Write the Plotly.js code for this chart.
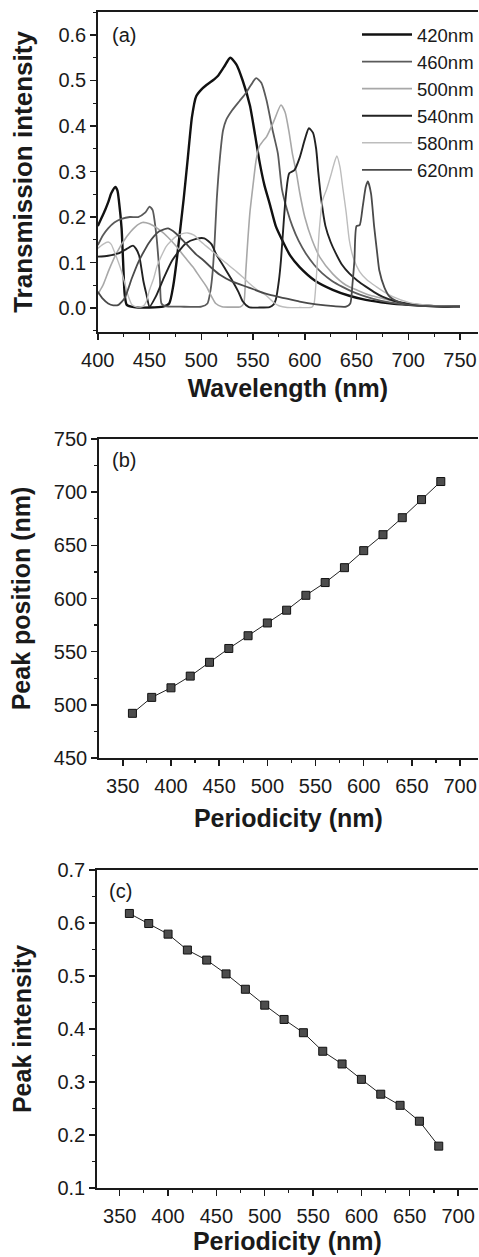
<!DOCTYPE html>
<html>
<head>
<meta charset="utf-8">
<script src="https://cdn.plot.ly/plotly-3.0.1.min.js"></script>
<style>
html,body{margin:0;padding:0;background:#fff;}
#chart{width:479px;height:1257px;}
</style>
</head>
<body>
<div id="chart"></div>
<script>
// ---- Panel (a): transmission spectra ----
const seriesNames = ["420nm", "460nm", "500nm", "540nm", "580nm", "620nm"];

const wl420 = [400,404,407,410,413,417,419,420.5,423,424.5,426,428,435,450,463,469,473,476,480,483,487,491,495,500,505,511,516,522,528,534,540,547,552,556,561,566,572,578,586,595,610,627,643,659,680,700,725,750];
const int420 = [0.18,0.2,0.215,0.232,0.252,0.266,0.258,0.234,0.175,0.1,0.03,0.007,0.002,0.001,0.003,0.01,0.05,0.1,0.18,0.24,0.33,0.42,0.465,0.48,0.49,0.5,0.51,0.53,0.55,0.535,0.5,0.445,0.38,0.325,0.27,0.23,0.18,0.15,0.115,0.09,0.06,0.04,0.027,0.018,0.011,0.007,0.004,0.003];

const wl460 = [400,405,410,416,423,431,439,446,450,453,456.6,458.5,460,461.5,465,480,500,506,509,511,513,515,518,521,524,530,537,543,548,553,558,563,569,574,578,583,588,594,601,609,617,626,636,647,659,673,688,710,750];
const int460 = [0.138,0.16,0.175,0.188,0.196,0.2,0.2,0.21,0.223,0.215,0.16,0.11,0.066,0.01,0.004,0.003,0.003,0.01,0.04,0.08,0.15,0.24,0.33,0.39,0.413,0.435,0.455,0.472,0.49,0.505,0.495,0.457,0.39,0.34,0.26,0.215,0.18,0.148,0.12,0.095,0.076,0.06,0.047,0.035,0.025,0.016,0.01,0.006,0.003];

const wl500 = [400,405,411,418,428,436,443,450,460,468,476,484,492,498,505,510,514,520,530,538,541,543,545,547,550,553,556,560,563,570,577,581,585,588,592,595,600,607,615,627,640,650,663,677,692,707,725,750];
const int500 = [0.03,0.05,0.085,0.12,0.157,0.178,0.188,0.185,0.171,0.155,0.135,0.112,0.09,0.07,0.047,0.025,0.01,0.003,0.002,0.003,0.01,0.08,0.15,0.21,0.27,0.325,0.355,0.368,0.376,0.41,0.446,0.43,0.384,0.34,0.296,0.255,0.2,0.15,0.11,0.075,0.05,0.04,0.028,0.02,0.012,0.008,0.005,0.003];

const wl540 = [400,410,420,428,434,437,440,444,447,450,456,463,472,485,495,503,510,514,522,530,536,540,546,556,566,570,572,575,577,580,582,585,590,595,600,604,608,611,613,616,620,625,630,636,643,651,659,667,675,686,698,720,750];
const int540 = [0.113,0.115,0.12,0.13,0.137,0.13,0.115,0.06,0.03,0.003,0.025,0.062,0.105,0.142,0.152,0.153,0.14,0.12,0.09,0.06,0.035,0.015,0.002,0.001,0.002,0.008,0.018,0.06,0.105,0.2,0.253,0.296,0.303,0.33,0.37,0.395,0.385,0.35,0.3,0.237,0.18,0.145,0.12,0.095,0.076,0.06,0.047,0.035,0.025,0.016,0.01,0.005,0.003];

const wl580 = [400,405,410,413,416,420,423,426,429,433,438,444,447,450,454,457,461,466,471,476,481,487,493,500,509,518,526,534,540,546,554,563,570,575,583,595,607,609,611,614,617,621,625,628,631,634,637,640,643,647,653,660,669,677,685,701,720,750];
const int580 = [0.131,0.14,0.145,0.14,0.124,0.1,0.08,0.055,0.029,0.007,0.002,0.004,0.015,0.04,0.065,0.09,0.112,0.135,0.148,0.158,0.163,0.165,0.16,0.145,0.128,0.11,0.095,0.08,0.068,0.055,0.04,0.027,0.012,0.005,0.001,0.001,0.002,0.01,0.06,0.17,0.235,0.26,0.29,0.315,0.334,0.31,0.26,0.21,0.15,0.11,0.08,0.062,0.047,0.035,0.025,0.012,0.006,0.003];

const wl620 = [400,405,410,415,420,426,433,439,444,449,454,459,464,468,475,485,495,502,510,518,530,546,563,580,595,611,628,640,644,646,648,650,653,656,659,661,664,667,670,672,677,682,690,698,710,725,750];
const int620 = [0.036,0.02,0.01,0.006,0.007,0.022,0.066,0.1,0.122,0.142,0.157,0.168,0.173,0.175,0.165,0.142,0.118,0.105,0.088,0.073,0.058,0.045,0.031,0.022,0.014,0.008,0.004,0.003,0.01,0.05,0.105,0.18,0.182,0.223,0.267,0.278,0.252,0.18,0.12,0.083,0.045,0.025,0.014,0.008,0.005,0.004,0.003];

// ---- Panels (b) and (c) ----
const periodicity = [360,380,400,420,440,460,480,500,520,540,560,580,600,620,640,660,680];
const peakPosition = [492,507,516,527,540,553,565,577,589,603,615,629,645,660,676,693,710];
const peakIntensity = [0.618,0.599,0.579,0.549,0.530,0.504,0.475,0.445,0.418,0.393,0.358,0.334,0.305,0.277,0.256,0.226,0.179];

const xTicksA = [400,450,500,550,600,650,700,750];
const xTicksBC = [350,400,450,500,550,600,650,700];

const FONT = "Liberation Sans, Arial, Helvetica, sans-serif";
const INK = "#1a1a1a";

const waveX = [wl420, wl460, wl500, wl540, wl580, wl620];
const waveY = [int420, int460, int500, int540, int580, int620];
const lineColors = ["#111111", "#5a5a5a", "#a8a8a8", "#222222", "#bdbdbd", "#4a4a4a"];
const lineWidths = [2.4, 1.8, 1.6, 1.9, 1.4, 1.8];

const traces = [];
for (let i = 0; i < seriesNames.length; i++) {
  traces.push({
    type: "scatter", mode: "lines",
    x: waveX[i], y: waveY[i], name: seriesNames[i],
    xaxis: "x", yaxis: "y",
    line: {color: lineColors[i], width: lineWidths[i], shape: "spline", smoothing: 0.6},
    showlegend: true
  });
}
traces.push({
  type: "scatter", mode: "lines+markers",
  x: periodicity, y: peakPosition, xaxis: "x2", yaxis: "y2", showlegend: false,
  line: {color: "#222", width: 1},
  marker: {symbol: "square", size: 8, color: "#4d4d4d", line: {color: "#111", width: 1}}
});
traces.push({
  type: "scatter", mode: "lines+markers",
  x: periodicity, y: peakIntensity, xaxis: "x3", yaxis: "y3", showlegend: false,
  line: {color: "#222", width: 1},
  marker: {symbol: "square", size: 8, color: "#4d4d4d", line: {color: "#111", width: 1}}
});

const H = 1257, W = 479;
const py = v => 1 - v / H;

function xAxis(dom, range, ticks, title, anchor, standoff) {
  return {
    domain: dom, range: range, anchor: anchor,
    tickmode: "array", tickvals: ticks, ticktext: ticks.map(String),
    ticks: "outside", ticklen: 6, tickwidth: 1.5, tickcolor: INK,
    minor: {ticks: "outside", ticklen: 3, tickwidth: 1.2, tickcolor: INK, dtick: 25, tick0: 0},
    showline: true, linecolor: INK, linewidth: 1.6, mirror: true,
    showgrid: false, zeroline: false,
    tickfont: {family: FONT, size: 20, color: INK},
    ticklabelstandoff: 3,
    title: {text: title, font: {family: FONT, size: 25, color: INK, weight: "bold"}, standoff: standoff},
    automargin: false, fixedrange: true
  };
}
function yAxis(dom, range, dtick, fmt, title, anchor, minorD, standoff, tsize) {
  return {
    domain: dom, range: range, anchor: anchor,
    tickmode: "linear", tick0: 0, dtick: dtick, tickformat: fmt,
    ticks: "outside", ticklen: 6, tickwidth: 1.5, tickcolor: INK,
    minor: {ticks: "outside", ticklen: 3, tickwidth: 1.2, tickcolor: INK, dtick: minorD},
    showline: true, linecolor: INK, linewidth: 1.6, mirror: false,
    showgrid: false, zeroline: false,
    tickfont: {family: FONT, size: 20, color: INK},
    ticklabelstandoff: 0,
    title: {text: title, font: {family: FONT, size: tsize, color: INK, weight: "bold"}, standoff: standoff},
    automargin: false, fixedrange: true
  };
}

const layout = {
  width: W, height: H,
  margin: {l: 0, r: 0, t: 0, b: 0},
  paper_bgcolor: "#ffffff", plot_bgcolor: "rgba(0,0,0,0)",
  font: {family: FONT, color: INK},
  showlegend: true,
  legend: {
    x: 358 / W, y: py(16), xanchor: "left", yanchor: "top",
    bgcolor: "rgba(0,0,0,0)", borderwidth: 0,
    font: {family: FONT, size: 18.5, color: INK},
    itemwidth: 50, tracegroupgap: 0
  },
  xaxis: xAxis([98 / W, 1], [400, 767.4], xTicksA, "Wavelength (nm)", "y", 10),
  yaxis: yAxis([py(332), py(12)], [-0.0527, 0.6505], 0.1, ".1f", "Transmission intensity", "x", 0.05, 18, 26),
  xaxis2: xAxis([99 / W, 1], [325.1, 718.6], xTicksBC, "Periodicity (nm)", "y2", 14),
  yaxis2: yAxis([py(758), py(439)], [450, 750], 50, "d", "Peak position (nm)", "x2", 25, 16, 25),
  xaxis3: xAxis([97 / W, 1], [326.3, 720.6], xTicksBC, "Periodicity (nm)", "y3", 3),
  yaxis3: yAxis([py(1188), py(870)], [0.1, 0.7], 0.1, ".1f", "Peak intensity", "x3", 0.05, 18, 25),
  annotations: [
    {text: "(a)", xref: "paper", yref: "paper", x: 110 / W, y: py(35), xanchor: "left", yanchor: "middle", showarrow: false, font: {family: FONT, size: 20, color: INK}},
    {text: "(b)", xref: "paper", yref: "paper", x: 110 / W, y: py(460), xanchor: "left", yanchor: "middle", showarrow: false, font: {family: FONT, size: 20, color: INK}},
    {text: "(c)", xref: "paper", yref: "paper", x: 107 / W, y: py(891), xanchor: "left", yanchor: "middle", showarrow: false, font: {family: FONT, size: 20, color: INK}}
  ]
};

Plotly.newPlot("chart", traces, layout, {staticPlot: true, displayModeBar: false});
</script>
</body>
</html>
